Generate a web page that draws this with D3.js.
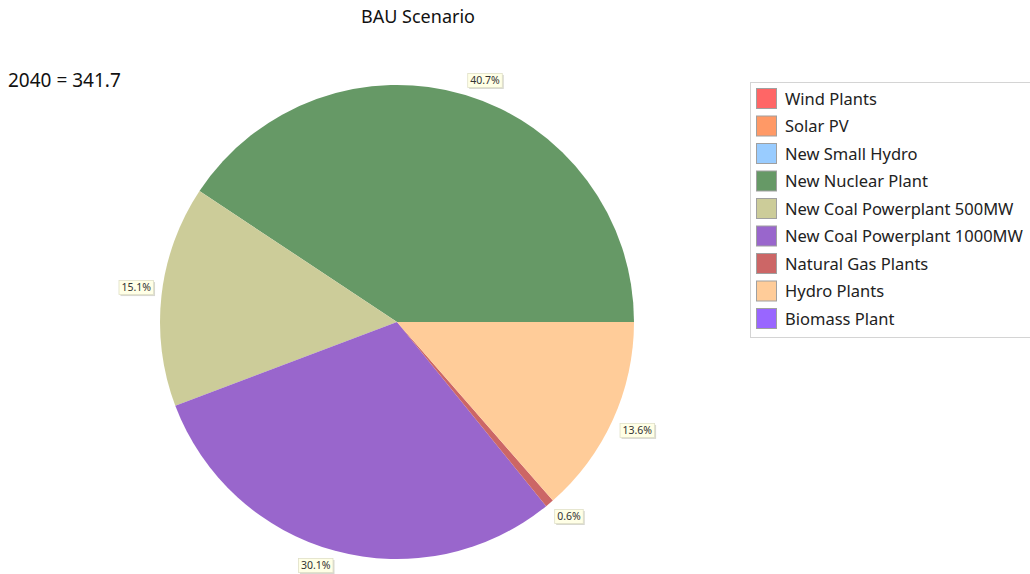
<!DOCTYPE html>
<html>
<head>
<meta charset="utf-8">
<script src="https://cdn.jsdelivr.net/npm/d3@7"></script>
<style>
  body { margin: 0; background: #fff; }
  svg { display: block; font-family: "Noto Sans", "Open Sans", sans-serif; }
</style>
</head>
<body>
<svg id="chart" width="1030" height="574"></svg>
<script>
// categories and values (2040, BAU)
const categories = ["Wind Plants", "Solar PV", "New Small Hydro", "New Nuclear Plant",
  "New Coal Powerplant 500MW", "New Coal Powerplant 1000MW", "Natural Gas Plants",
  "Hydro Plants", "Biomass Plant"];
const values = [0, 0, 0, 139.0, 51.5, 102.8, 2.0, 46.4, 0];
const colors = ["#ff6666", "#ff9966", "#99ccff", "#669966", "#cccc99", "#9966cc",
  "#cc6666", "#ffcc99", "#9966ff"];
const title = "BAU Scenario";
const totalLabel = "2040 = 341.7";

const svg = d3.select("#chart");
const cx = 397, cy = 322, radius = 237;

// title + total
svg.append("text").attr("x", 418).attr("y", 23).attr("text-anchor", "middle")
  .attr("font-size", 18).attr("fill", "#111").text(title);
svg.append("text").attr("x", 8).attr("y", 87)
  .attr("font-size", 19).attr("fill", "#111").text(totalLabel);

const data = categories.map((c, i) => ({ name: c, value: values[i], color: colors[i] }));
const total = d3.sum(values);

// starts at 3 o'clock, runs counterclockwise
const pie = d3.pie().sort(null).value(d => d.value)
  .startAngle(Math.PI / 2).endAngle(Math.PI / 2 - 2 * Math.PI);
const arcs = pie(data).filter(d => d.data.value > 0);
const arc = d3.arc().innerRadius(0).outerRadius(radius);

const g = svg.append("g").attr("transform", `translate(${cx},${cy})`);
g.selectAll("path").data(arcs).join("path")
  .attr("d", arc).attr("fill", d => d.data.color);

// percentage labels
const fmt = d3.format(".1f");
const labelArc = d3.arc().innerRadius(245).outerRadius(245);
arcs.forEach(d => {
  const [ax, ay] = labelArc.centroid(d);
  const txt = fmt(d.data.value / total * 100) + "%";
  const lg = g.append("g");
  const t = lg.append("text").attr("font-size", 10.5).attr("fill", "#333").text(txt);
  const w = t.node().getComputedTextLength() + 5, h = 14;
  const bx = ax >= 0 ? ax : ax - w;
  const by = ay >= 0 ? ay : ay - h;
  lg.insert("rect", "text").attr("x", bx + 1.5).attr("y", by + 1.5)
    .attr("width", w).attr("height", h).attr("fill", "#d8d8d0");
  lg.insert("rect", "text").attr("x", bx).attr("y", by)
    .attr("width", w).attr("height", h).attr("fill", "#ffffe6")
    .attr("stroke", "#e0e0c8").attr("stroke-width", 0.8);
  t.attr("x", bx + 2.5).attr("y", by + 10.5);
});

// legend
const legend = svg.append("g").attr("transform", "translate(750,82)");
legend.append("rect").attr("x", 0.5).attr("y", 0.5).attr("width", 290).attr("height", 255)
  .attr("fill", "#fff").attr("stroke", "#d4d4d4");
const rowY = d3.scalePoint().domain(categories).range([17, 237]);
const rows = legend.selectAll("g.row").data(data).join("g").attr("class", "row")
  .attr("transform", d => `translate(0,${rowY(d.name)})`);
rows.append("rect").attr("x", 6.5).attr("y", -10.5).attr("width", 20).attr("height", 20)
  .attr("fill", d => d.color).attr("stroke", "#a0a0a0").attr("stroke-width", 1);
rows.append("text").attr("x", 35).attr("y", 5.5).attr("font-size", 16.5)
  .attr("fill", "#222").text(d => d.name);
</script>
</body>
</html>
